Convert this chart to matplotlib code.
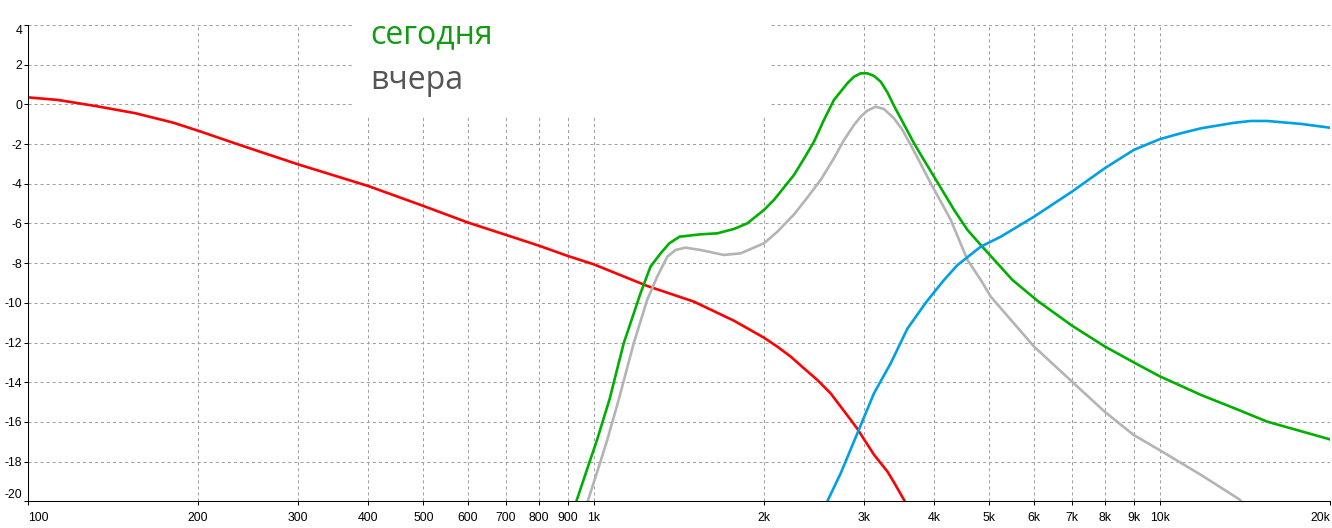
"""Frequency response: today vs yesterday"""
import matplotlib
matplotlib.use('Agg')
import matplotlib.pyplot as plt
from matplotlib.patches import Rectangle

# red curve (low pass)
red_f = [100, 113, 132, 155, 181, 200, 225, 247, 300, 400, 500, 600, 700, 800, 900,
         1000, 1243, 1503, 1769, 2000, 2111, 2229, 2352, 2485, 2622, 2732, 2846,
         2924, 3000, 3128, 3304, 3394, 3535, 3600]
red_db = [0.35, 0.22, -0.09, -0.45, -0.93, -1.33, -1.83, -2.22, -3.02, -4.12, -5.12,
          -5.96, -6.58, -7.12, -7.64, -8.06, -9.15, -9.94, -10.9, -11.76, -12.21,
          -12.71, -13.3, -13.89, -14.56, -15.23, -15.9, -16.35, -16.85, -17.65,
          -18.5, -19.05, -19.93, -20.4]

# green curve - "сегодня"
green_f = [920, 932, 984, 1014, 1067, 1130, 1210, 1260, 1313, 1361, 1418, 1545, 1654,
           1769, 1868, 2000, 2082, 2259, 2352, 2451, 2552, 2658, 2732, 2807, 2884,
           2964, 3045, 3128, 3215, 3304, 3394, 3535, 3681, 3834, 3995, 4160, 4333,
           4576, 4831, 5495, 6085, 7000, 8000, 9000, 10000, 11830, 13550, 15500, 20000]
green_db = [-20.6, -20.0, -18.0, -16.9, -14.85, -12.04, -9.52, -8.18, -7.51, -7.0,
            -6.67, -6.55, -6.5, -6.28, -6.0, -5.32, -4.82, -3.56, -2.75, -1.88,
            -0.79, 0.22, 0.64, 1.06, 1.39, 1.56, 1.56, 1.43, 1.14, 0.6, -0.08, -1.02,
            -1.96, -2.81, -3.65, -4.48, -5.32, -6.33, -7.09, -8.85, -9.9, -11.15,
            -12.2, -13.0, -13.7, -14.64, -15.31, -15.99, -16.88]

# gray curve - "вчера"
gray_f = [965, 976, 1028, 1057, 1108, 1177, 1243, 1295, 1349, 1395, 1453, 1545, 1698,
          1818, 2000, 2111, 2259, 2385, 2518, 2658, 2769, 2884, 2964, 3045, 3150, 3258,
          3394, 3512, 3633, 3784, 3941, 4105, 4276, 4576, 4831, 5030, 6001, 7000, 8000,
          9000, 10000, 11830, 13830, 14200]
gray_db = [-20.5, -20.0, -18.0, -16.9, -14.85, -12.04, -9.86, -8.68, -7.68, -7.34,
           -7.22, -7.34, -7.59, -7.51, -7.0, -6.42, -5.55, -4.7, -3.81, -2.72, -1.8,
           -1.04, -0.62, -0.32, -0.12, -0.24, -0.71, -1.29, -2.05, -3.01, -3.98, -4.9,
           -5.83, -7.84, -8.85, -9.69, -12.21, -13.97, -15.49, -16.66, -17.42, -18.67,
           -19.9, -20.3]

# blue curve (high pass)
blue_f = [2560, 2594, 2732, 2924, 3128, 3348, 3584, 3861, 4000, 4160, 4393, 4831, 5240,
          6001, 7000, 8000, 9000, 10000, 10900, 11830, 13550, 14500, 15500, 17800, 20000]
blue_db = [-20.5, -19.93, -18.59, -16.57, -14.56, -13.05, -11.3, -10.0, -9.45, -8.85,
           -8.1, -7.17, -6.67, -5.66, -4.4, -3.22, -2.3, -1.76, -1.46, -1.21, -0.93,
           -0.84, -0.84, -0.99, -1.18]

x_ticks = [100, 200, 300, 400, 500, 600, 700, 800, 900,
           1000, 2000, 3000, 4000, 5000, 6000, 7000, 8000, 9000, 10000, 20000]
x_labels = ['100', '200', '300', '400', '500', '600', '700', '800', '900',
            '1k', '2k', '3k', '4k', '5k', '6k', '7k', '8k', '9k', '10k', '20k']
y_ticks = list(range(4, -21, -2))

fig = plt.figure(figsize=(13.32, 5.28), dpi=100)
ax = fig.add_axes([27.7 / 1332, 26.7 / 528, 1302.3 / 1332, 476.4 / 528])

ax.plot(red_f, red_db, color='#ff0000', lw=1.9)
ax.plot(gray_f, gray_db, color='#b4b4b4', lw=1.9)
ax.plot(green_f, green_db, color='#00b000', lw=1.9)
ax.plot(blue_f, blue_db, color='#00a0e6', lw=1.9)

ax.set_xscale('log')
ax.set_xlim(100, 20000)
ax.set_ylim(-20, 4)
ax.set_xticks(x_ticks)
ax.set_xticklabels(x_labels)
ax.minorticks_off()
ax.set_yticks(y_ticks)
ax.set_yticklabels([str(v) for v in y_ticks])

ax.set_axisbelow(True)
ax.grid(True, color='#a0a0a0', lw=0.75, linestyle=(0, (2.9, 2.9)))
for s in ('top', 'right'):
    ax.spines[s].set_visible(False)
for s in ('left', 'bottom'):
    ax.spines[s].set_linewidth(0.75)
    ax.spines[s].set_color('black')

ax.tick_params(axis='x', direction='out', length=3, width=0.75, pad=4.5,
               labelsize=8.8)
ax.tick_params(axis='y', direction='out', length=3, width=0.75, pad=1,
               labelsize=8.8)
for lab in ax.get_xticklabels() + ax.get_yticklabels():
    lab.set_family('Liberation Sans')
xl = ax.get_xticklabels()
xl[0].set_ha('left')
xl[-1].set_ha('right')
yl = ax.get_yticklabels()
yl[0].set_va('top')
yl[-1].set_va('bottom')

# white box behind the legend text
ax.add_patch(Rectangle((0.2506, 0.811), 0.3202, 0.25, transform=ax.transAxes,
                       facecolor='white', edgecolor='none', zorder=1.5,
                       clip_on=False))
fig.text(370 / 1332, (528 - 43) / 528, 'сегодня', color='#129a12',
         fontsize=23, family='Open Sans', va='baseline', ha='left')
fig.text(370 / 1332, (528 - 89.3) / 528, 'вчера', color='#555555',
         fontsize=23, family='Open Sans', va='baseline', ha='left')

fig.savefig('out.png', dpi=100)
